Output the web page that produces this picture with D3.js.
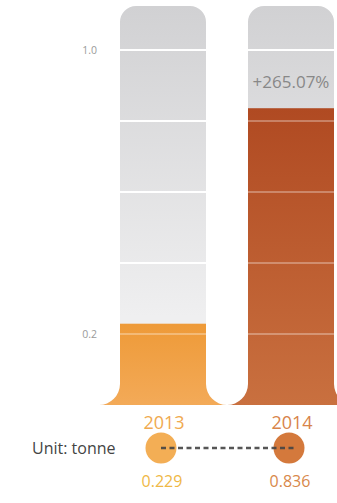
<!DOCTYPE html>
<html>
<head>
<meta charset="utf-8">
<script src="https://cdn.jsdelivr.net/npm/d3@7"></script>
<style>
  html, body { margin: 0; padding: 0; background: #fff; }
  svg { display: block; font-family: "Open Sans", "Noto Sans", sans-serif; }
</style>
</head>
<body>
<div id="chart"></div>
<script>
// data
const years = ["2013", "2014"];
const values = [0.229, 0.836];
const valueLabels = ["0.229", "0.836"];
const growthLabel = "+265.07%";
const gridTicks = [0.2, 0.4, 0.6, 0.8, 1.0];
const tickLabels = ["1.0", "0.2"];
const tickLabelValues = [1.0, 0.2];
const unitLabel = "Unit: tonne";
const barMax = 1.124;

const barColors = [["#ee9a38", "#f3aa58"], ["#b04a22", "#c9703f"]];
const dotColors = ["#f3ae55", "#d4793c"];
const yearColors = ["#f0aa50", "#d8844a"];
const valueColors = ["#efb845", "#d8884a"];

const W = 337, H = 503;
const svg = d3.select("#chart").append("svg")
    .attr("width", W)
    .attr("height", H);

const y = d3.scaleLinear().domain([0, 1]).range([405, 50]);
const x = d3.scalePoint().domain(years).range([163, 291]);
const bw = 86, rTop = 16, rFoot = 21;

const defs = svg.append("defs");

// gray background gradient
const gg = defs.append("linearGradient").attr("id", "grayGrad")
    .attr("gradientUnits", "userSpaceOnUse")
    .attr("x1", 0).attr("x2", 0).attr("y1", y(barMax)).attr("y2", y(0.25));
gg.append("stop").attr("offset", 0).attr("stop-color", "#d1d1d3");
gg.append("stop").attr("offset", 1).attr("stop-color", "#efeff0");

barColors.forEach((c, i) => {
    const g = defs.append("linearGradient").attr("id", "barGrad" + i)
        .attr("gradientUnits", "userSpaceOnUse")
        .attr("x1", 0).attr("x2", 0).attr("y1", y(values[i])).attr("y2", y(0));
    g.append("stop").attr("offset", 0).attr("stop-color", c[0]);
    g.append("stop").attr("offset", 1).attr("stop-color", c[1]);
});

// bar outline: rounded top, concave flared foot
function barPath(cx) {
    const x0 = cx - bw / 2, x1 = cx + bw / 2;
    const top = y(barMax), bot = y(0);
    const p = d3.path();
    p.moveTo(x0 - rFoot, bot);
    p.lineTo(x1 + rFoot, bot);
    p.arc(x1 + rFoot, bot - rFoot, rFoot, Math.PI / 2, Math.PI, false);
    p.lineTo(x1, top + rTop);
    p.arc(x1 - rTop, top + rTop, rTop, 0, -Math.PI / 2, true);
    p.lineTo(x0 + rTop, top);
    p.arc(x0 + rTop, top + rTop, rTop, -Math.PI / 2, -Math.PI, true);
    p.lineTo(x0, bot - rFoot);
    p.arc(x0 - rFoot, bot - rFoot, rFoot, 0, Math.PI / 2, false);
    p.closePath();
    return p.toString();
}

years.forEach((yr, i) => {
    const cx = x(yr);
    defs.append("clipPath").attr("id", "clip" + i)
        .append("path").attr("d", barPath(cx));

    const g = svg.append("g").attr("clip-path", `url(#clip${i})`);
    const left = cx - bw / 2 - rFoot, width = bw + 2 * rFoot;

    g.append("rect")
        .attr("x", left).attr("width", width)
        .attr("y", y(barMax)).attr("height", y(0) - y(barMax))
        .attr("fill", "url(#grayGrad)");

    g.selectAll("line.grid")
        .data(gridTicks)
        .enter().append("line")
        .attr("class", "grid")
        .attr("x1", cx - bw / 2).attr("x2", cx + bw / 2)
        .attr("y1", d => y(d)).attr("y2", d => y(d))
        .attr("stroke", "#fff")
        .attr("stroke-width", 2);

    g.append("rect")
        .attr("x", left).attr("width", width)
        .attr("y", y(values[i])).attr("height", y(0) - y(values[i]))
        .attr("fill", `url(#barGrad${i})`);

    g.selectAll("line.over")
        .data(gridTicks.filter(d => d < values[i]))
        .enter().append("line")
        .attr("class", "over")
        .attr("x1", cx - bw / 2).attr("x2", cx + bw / 2)
        .attr("y1", d => y(d)).attr("y2", d => y(d))
        .attr("stroke", "#fff")
        .attr("stroke-opacity", 0.3)
        .attr("stroke-width", 2);
});

// tick labels
svg.selectAll("text.tick")
    .data(tickLabelValues)
    .enter().append("text")
    .attr("class", "tick")
    .attr("x", 97)
    .attr("y", d => y(d))
    .attr("dy", "0.35em")
    .attr("text-anchor", "end")
    .attr("font-size", 10.5)
    .attr("fill", "#9a9a9a")
    .text((d, i) => tickLabels[i]);

// growth label
svg.append("text")
    .attr("x", x(years[1]))
    .attr("y", 88)
    .attr("text-anchor", "middle")
    .attr("font-size", 17)
    .attr("fill", "#888")
    .text(growthLabel);

// year labels
svg.selectAll("text.year")
    .data(years)
    .enter().append("text")
    .attr("class", "year")
    .attr("x", d => x(d) + 1)
    .attr("y", 429)
    .attr("text-anchor", "middle")
    .attr("font-size", 18)
    .attr("fill", (d, i) => yearColors[i])
    .text(d => d);

// dots + dashed connector
const dotY = 448;
svg.selectAll("circle.dot")
    .data(years)
    .enter().append("circle")
    .attr("class", "dot")
    .attr("cx", d => x(d) - 2)
    .attr("cy", dotY)
    .attr("r", 15.5)
    .attr("fill", (d, i) => dotColors[i]);

svg.append("line")
    .attr("x1", x(years[0]) - 2).attr("x2", x(years[1]) + 3)
    .attr("y1", dotY).attr("y2", dotY)
    .attr("stroke", "#444")
    .attr("stroke-opacity", 0.9)
    .attr("stroke-width", 2.5)
    .attr("stroke-dasharray", "5,3.5");

svg.append("text")
    .attr("x", 32)
    .attr("y", dotY + 6)
    .attr("font-size", 16)
    .attr("fill", "#444")
    .text(unitLabel);

// value labels
svg.selectAll("text.val")
    .data(values)
    .enter().append("text")
    .attr("class", "val")
    .attr("x", (d, i) => x(years[i]) - 1)
    .attr("y", 487)
    .attr("text-anchor", "middle")
    .attr("font-size", 16)
    .attr("fill", (d, i) => valueColors[i])
    .text((d, i) => valueLabels[i]);
</script>
</body>
</html>
